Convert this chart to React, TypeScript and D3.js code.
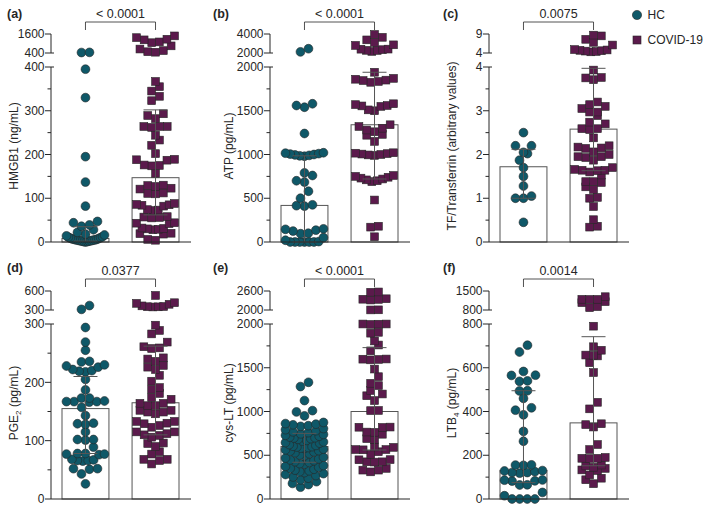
import React from 'react';
import * as d3 from 'd3';

const groups = ['HC', 'COVID-19'];

// (a) HMGB1 (ng/mL)
const hmgb1HC = [440, 430, 395, 330, 195, 137, 82, 47, 44, 39, 36, 28, 22, 18, 16, 14, 12, 11, 10, 9, 8, 7, 6, 6, 5, 5, 4, 4, 3, 3, 2, 2, 1, 1, 0];
const hmgb1Covid = [1480, 1370, 1270, 1230, 1100, 1050, 850, 650, 550, 480, 450,
  367, 355, 345, 333, 323, 293, 289, 282, 264, 264, 264, 262, 244, 233, 221, 202, 189, 188, 187, 176, 175, 174, 157,
  130, 129, 127, 123, 121, 112, 111, 110, 88, 86, 85, 84, 82, 74, 73, 72, 58, 57, 56, 55, 44, 43, 42, 32, 31, 30, 29,
  28, 20, 19, 18, 6, 4];
const hmgb1Median = [8, 147];
const hmgb1IQR = [[2, 35], [62, 302]];

// (b) ATP (pg/mL)
const atpHC = [2450, 2120, 1580, 1560, 1540, 1240, 1020, 1015, 1010, 1005, 1000, 995, 990, 985, 980, 790, 760, 700, 685,
  580, 500, 425, 415, 410, 150, 145, 135, 125, 100, 95, 50, 20, 5, 0, 0, 0, 0, 0, 0];
const atpCovid = [3950, 3650, 3380, 3100, 2860, 2800, 2410, 2400, 2350, 2280, 2270, 2170,
  1940, 1870, 1860, 1850, 1845, 1835, 1825, 1580, 1570, 1560, 1555, 1550, 1510, 1500, 1340, 1320, 1300, 1280, 1260,
  1230, 1220, 1150, 1020, 1015, 1010, 1005, 1000, 995, 990, 760, 750, 740, 730, 720, 710, 700, 690, 480,
  180, 170, 60];
const atpMedian = [418, 1340];
const atpIQR = [[0, 985], [720, 1940]];

// (c) TF/Transferrin
const tfHC = [2.5, 2.2, 2.2, 2.05, 2.02, 1.87, 1.7, 1.5, 1.28, 1.05, 1.0, 1.0, 0.45];
const tfCovid = [8.7, 8.5, 7.6, 6.8, 6.1, 4.9, 4.8, 4.7, 4.6, 4.5, 4.4, 4.3, 3.93, 3.76, 3.75, 3.71, 3.2, 3.14, 3.1,
  3.05, 2.97, 2.97, 2.89, 2.74, 2.7, 2.59, 2.59, 2.57, 2.38, 2.2, 2.17, 2.15, 2.14, 2.06, 2.0, 1.95, 1.95, 1.93, 1.87,
  1.7, 1.66, 1.64, 1.64, 1.63, 1.6, 1.53, 1.38, 1.38, 1.36, 1.26, 1.2, 1.02, 1.0, 0.81, 0.51, 0.36, 0.34];
const tfMedian = [1.72, 2.58];
const tfIQR = [[1.0, 2.12], [1.63, 3.97]];

// (d) PGE2 (pg/mL)
const pge2HC = [370, 310, 294, 269, 255, 236, 235, 230, 228, 226, 222, 220, 219, 218, 205, 187, 173, 173, 168, 167, 167,
  167, 166, 157, 143, 130, 129, 128, 115, 102, 102, 101, 89, 78, 78, 77, 77, 76, 68, 67, 66, 66, 65, 52, 52, 51, 43, 26];
const pge2Covid = [530, 415, 405, 390, 365, 355, 352, 350, 348, 298, 289, 283, 269, 261, 259, 258, 242, 240, 236, 229,
  226, 222, 212, 202, 191, 188, 181, 174, 171, 164, 164, 160, 160, 152, 152, 149, 149, 146, 133, 133, 130, 129, 126,
  123, 115, 115, 112, 110, 109, 106, 96, 95, 90, 81, 77, 68, 68, 66, 60];
const pge2Median = [155, 165];
const pge2IQR = [[78, 210], [110, 262]];

// (e) cys-LT (pg/mL)
const cyslHC = [1334, 1285, 1125, 1010, 995, 950, 875, 862, 855, 848, 838, 830, 805, 792, 780, 768, 758, 745, 738, 728,
  718, 708, 700, 697, 690, 682, 670, 662, 652, 645, 638, 622, 612, 603, 598, 594, 588, 582, 578, 570, 562, 553, 547,
  538, 528, 518, 502, 492, 478, 468, 458, 447, 438, 428, 418, 405, 398, 382, 372, 362, 350, 340, 330, 322, 312, 302,
  290, 280, 268, 252, 238, 218, 198, 178, 165, 135];
const cyslCovid = [2570, 2560, 2355, 2340, 2335, 2315, 2005, 2002, 2000, 2000, 1998, 1995, 1905, 1895, 1806, 1760, 1693,
  1600, 1598, 1595, 1590, 1485, 1398, 1322, 1296, 1240, 1200, 1180, 1125, 1012, 1010, 822, 820, 818, 765, 762, 740,
  690, 680, 595, 590, 565, 565, 562, 540, 510, 450, 448, 425, 425, 422, 350, 330, 330, 310];
const cyslMedian = [600, 1000];
const cyslIQR = [[420, 750], [560, 1730]];

// (f) LTB4 (pg/mL)
const ltb4HC = [703, 672, 583, 566, 565, 540, 538, 495, 494, 460, 417, 406, 385, 309, 264, 156, 155, 154, 130, 128, 125,
  121, 121, 118, 87, 86, 83, 82, 65, 64, 30, 15, 0, 0, 0, 0];
const ltb4Covid = [1290, 1193, 1192, 1190, 1107, 1070, 923, 886, 790, 696, 680, 658, 657, 654, 623, 578, 442, 412, 344,
  340, 329, 249, 226, 190, 186, 186, 185, 155, 151, 145, 140, 133, 130, 110, 95, 88, 70];
const ltb4Median = [130, 348];
const ltb4IQR = [[75, 495], [152, 742]];

const pValues = ['< 0.0001', '< 0.0001', '0.0075', '0.0377', '< 0.0001', '0.0014'];
const panelLetters = ['(a)', '(b)', '(c)', '(d)', '(e)', '(f)'];

const hcColor = '#0f5868';
const covidColor = '#5b1a4c';
const ink = '#262626';
const grey = '#555';
const font = "'Liberation Sans', Arial, Helvetica, sans-serif";

// layout of the grid
const cols = [
  { x0: 62, titleX: 13.5, letterX: 7 },
  { x0: 281, titleX: 229, letterX: 213 },
  { x0: 500, titleX: 452, letterX: 443 },
];
const rows = [
  { y0: 242, yTop: 67, yBreak: 53, yUp: 34, letterY: 18 },
  { y0: 499, yTop: 324, yBreak: 310, yUp: 291, letterY: 272 },
];

const panels = [
  { hc: hmgb1HC, covid: hmgb1Covid, med: hmgb1Median, iqr: hmgb1IQR, ticks: [0, 100, 200, 300, 400], upper: [400, 1600], title: ['HMGB1 (ng/mL)', '', ''], col: 0, row: 0 },
  { hc: atpHC, covid: atpCovid, med: atpMedian, iqr: atpIQR, ticks: [0, 500, 1000, 1500, 2000], upper: [2000, 4000], title: ['ATP (pg/mL)', '', ''], col: 1, row: 0 },
  { hc: tfHC, covid: tfCovid, med: tfMedian, iqr: tfIQR, ticks: [0, 1, 2, 3, 4], upper: [4, 9], title: ['TF/Transferrin (arbitrary values)', '', ''], col: 2, row: 0 },
  { hc: pge2HC, covid: pge2Covid, med: pge2Median, iqr: pge2IQR, ticks: [0, 100, 200, 300], upper: [300, 600], title: ['PGE', '2', ' (pg/mL)'], col: 0, row: 1 },
  { hc: cyslHC, covid: cyslCovid, med: cyslMedian, iqr: cyslIQR, ticks: [0, 500, 1000, 1500, 2000], upper: [2000, 2600], title: ['cys-LT (pg/mL)', '', ''], col: 1, row: 1 },
  { hc: ltb4HC, covid: ltb4Covid, med: ltb4Median, iqr: ltb4IQR, ticks: [0, 200, 400, 600, 800], upper: [800, 1500], title: ['LTB', '4', ' (pg/mL)'], col: 2, row: 1 },
];

// row-binned scatter, like a column scatter plot: points in the same pixel band sit side by side
function swarm(values: number[], yFn: (v: number) => number, d: number, maxSpan: number) {
  const pts = values.map((v) => ({ v, y: yFn(v), x: 0 })).sort((a, b) => b.y - a.y);
  const bins: (typeof pts)[] = [];
  let cur: typeof pts = [];
  let start = Infinity;
  for (const p of pts) {
    if (p.y < start - d * 0.9) {
      if (cur.length) bins.push(cur);
      cur = [];
      start = p.y;
    }
    cur.push(p);
  }
  if (cur.length) bins.push(cur);
  bins.forEach((bin) => {
    const n = bin.length;
    const s = n > 1 ? Math.min(d, maxSpan / (n - 1)) : 0;
    const slots = d3.range(n).map((k) => (k - (n - 1) / 2) * s);
    slots.sort((a, b) => Math.abs(a) - Math.abs(b) || a - b);
    bin.forEach((p, k) => (p.x = slots[k]));
  });
  return pts;
}

function Panel({ cfg, i }: { cfg: any; i: number }) {
  const col = cols[cfg.col];
  const row = rows[cfg.row];
  const x = d3.scaleBand().domain(groups).range([col.x0, col.x0 + 117]).paddingInner(0.33).paddingOuter(0);
  const bw = x.bandwidth();
  const axisX = col.x0 - 11;
  const xEnd = col.x0 + 117 + 12;
  const mainMax = cfg.ticks[cfg.ticks.length - 1];
  const yMain = d3.scaleLinear().domain([0, mainMax]).range([row.y0, row.yTop]);
  const yUp = d3.scaleLinear().domain(cfg.upper).range([row.yBreak, row.yUp]);
  const y = (v: number) => (v > mainMax ? yUp(v) : yMain(v));
  const step = cfg.ticks[1] - cfg.ticks[0];
  const minors = cfg.ticks.slice(1).map((t: number) => t - step / 2);
  const cx = groups.map((g) => (x(g) as number) + bw / 2);
  const hcPts = swarm(cfg.hc, y, 8, 38);
  const covPts = swarm(cfg.covid, y, 7.8, 38);
  const brY = row.yUp - 12;
  const tickFs = 12;
  return (
    <g>
      <text x={col.letterX} y={row.letterY} fontSize={12.5} fontWeight="bold" fill={ink} fontFamily={font}>{panelLetters[i]}</text>
      <text transform={`translate(${col.titleX},${(row.yUp + row.y0) / 2 + 8}) rotate(-90)`} textAnchor="middle" dy="0.35em" fontSize={12} fill={ink} fontFamily={font}>
        {cfg.title[0]}
        {cfg.title[1] && <tspan fontSize={8} dy={3}>{cfg.title[1]}</tspan>}
        {cfg.title[2] && <tspan dy={cfg.title[1] ? -3 : 0}>{cfg.title[2]}</tspan>}
      </text>
      {/* bars */}
      {groups.map((g, k) => (
        <rect key={g} x={x(g)} y={yMain(cfg.med[k])} width={bw} height={row.y0 - yMain(cfg.med[k])} fill="#fff" stroke={grey} strokeWidth={1} />
      ))}
      {/* points */}
      {hcPts.map((p, k) => (
        <circle key={'h' + k} cx={cx[0] + p.x} cy={p.y} r={4.4} fill={hcColor} stroke={ink} strokeWidth={0.6} />
      ))}
      {covPts.map((p, k) => (
        <rect key={'c' + k} x={cx[1] + p.x - 3.9} y={p.y - 3.9} width={7.8} height={7.8} fill={covidColor} stroke={ink} strokeWidth={0.6} />
      ))}
      {/* error bars */}
      {groups.map((g, k) => (
        <g key={'e' + g} stroke={grey} strokeWidth={1}>
          <line x1={cx[k]} x2={cx[k]} y1={y(cfg.iqr[k][0])} y2={y(cfg.iqr[k][1])} />
          <line x1={cx[k] - 12} x2={cx[k] + 12} y1={y(cfg.iqr[k][1])} y2={y(cfg.iqr[k][1])} />
          <line x1={cx[k] - 12} x2={cx[k] + 12} y1={y(cfg.iqr[k][0])} y2={y(cfg.iqr[k][0])} />
        </g>
      ))}
      {/* axes */}
      <g stroke={ink} strokeWidth={1} fill="none">
        <line x1={axisX} x2={axisX} y1={row.y0} y2={row.yTop} />
        <line x1={axisX} x2={xEnd} y1={row.y0} y2={row.y0} />
        {cfg.ticks.map((t: number) => (
          <line key={'t' + t} x1={axisX - 6} x2={t === mainMax ? axisX + 3 : axisX} y1={yMain(t)} y2={yMain(t)} />
        ))}
        {minors.map((t: number) => (
          <line key={'m' + t} x1={axisX - 3.5} x2={axisX} y1={yMain(t)} y2={yMain(t)} />
        ))}
        <line x1={axisX} x2={axisX} y1={row.yBreak} y2={row.yUp} />
        <line x1={axisX - 6} x2={axisX} y1={row.yUp} y2={row.yUp} />
        <line x1={axisX - 6} x2={axisX + 3} y1={row.yBreak} y2={row.yBreak} />
      </g>
      <g fontSize={tickFs} fill={ink} fontFamily={font} textAnchor="end">
        {cfg.ticks.map((t: number) => (
          <text key={'l' + t} x={axisX - 6.5} y={yMain(t)} dy="0.35em">{t}</text>
        ))}
        {cfg.upper.map((t: number) => (
          <text key={'u' + t} x={axisX - 6.5} y={yUp(t)} dy="0.35em">{t}</text>
        ))}
      </g>
      {/* significance bracket */}
      <path d={`M${cx[0]},${brY + 8}V${brY}H${cx[1]}V${brY + 8}`} fill="none" stroke={ink} strokeWidth={0.8} />
      <text x={(cx[0] + cx[1]) / 2} y={row.yUp - 16.5} textAnchor="middle" fontSize={12.5} fill={ink} fontFamily={font}>{pValues[i]}</text>
    </g>
  );
}

export default function App() {
  return (
    <svg width={709} height={512} style={{ position: 'absolute', left: 0, top: 0, background: '#fff' }}>
      {panels.map((p, i) => (
        <Panel key={i} cfg={p} i={i} />
      ))}
      <g fontFamily={font} fontSize={12} fill={ink}>
        <circle cx={637} cy={15} r={4.6} fill={hcColor} stroke={ink} strokeWidth={0.6} />
        <text x={647.5} y={15} dy="0.35em">{groups[0]}</text>
        <rect x={633} y={36} width={8} height={8} fill={covidColor} stroke={ink} strokeWidth={0.6} />
        <text x={647.5} y={40} dy="0.35em">{groups[1]}</text>
      </g>
    </svg>
  );
}
